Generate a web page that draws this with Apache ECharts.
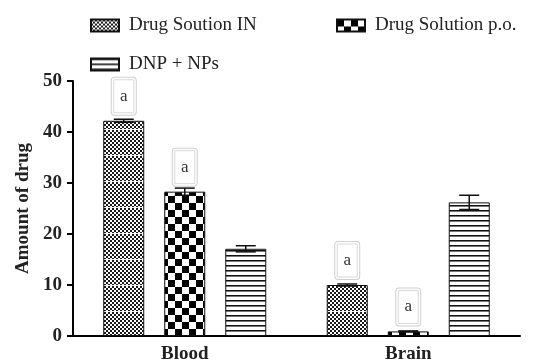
<!DOCTYPE html>
<html>
<head>
<meta charset="utf-8">
<script src="https://cdn.jsdelivr.net/npm/echarts@6/dist/echarts.min.js"></script>
<style>
  html, body { margin: 0; padding: 0; background: #fff; }
  #chart { width: 540px; height: 364px; }
</style>
</head>
<body>
<div id="chart"></div>
<script>
// Tissue distribution of the drug
const categories = ['Blood', 'Brain'];
const seriesNames = ['Drug Soution IN', 'Drug Solution p.o.', 'DNP + NPs'];
const inValues = [42.2, 10.0];
const poValues = [28.3, 0.9];
const dnpValues = [17.1, 26.2];
const inErrors = [0.3, 0.2];
const poErrors = [0.7, 0.1];
const dnpErrors = [0.6, 1.4];
const inMarks = ['a', 'a'];
const poMarks = ['a', 'a'];
const dnpMarks = ['', ''];
const yTicks = [0, 10, 20, 30, 40, 50];

const FONT = "'Liberation Serif', 'Times New Roman', serif";
const BAR_W = 41;
const BAR_GAP = 20;

// Fill patterns drawn on small canvas tiles
function tile(w, h, draw) {
  const c = document.createElement('canvas');
  c.width = w; c.height = h;
  const ctx = c.getContext('2d');
  ctx.fillStyle = '#fff';
  ctx.fillRect(0, 0, w, h);
  draw(ctx);
  return { image: c, repeat: 'repeat' };
}
const fineChecker = tile(4, 26, ctx => {
  ctx.fillStyle = '#1a1a1a';
  for (let y = 0; y < 26; y += 2) {
    for (let x = 0; x < 4; x += 2) {
      if (((x + y) / 2) % 2 === 0) ctx.fillRect(x, y, 2, 2);
    }
  }
  ctx.fillStyle = '#eee';
  ctx.fillRect(0, 25, 3, 1);
});
const bigChecker = tile(14, 14, ctx => {
  ctx.fillStyle = '#000';
  ctx.fillRect(0, 0, 7, 7);
  ctx.fillRect(7, 7, 7, 7);
});
const hLines = tile(4, 5, ctx => {
  ctx.fillStyle = '#111';
  ctx.fillRect(0, 0, 4, 1);
  ctx.fillStyle = '#777';
  ctx.fillRect(0, 1, 4, 1);
});

const valueSets = [inValues, poValues, dnpValues];
const errorSets = [inErrors, poErrors, dnpErrors];
const markSets = [inMarks, poMarks, dnpMarks];
const fills = [fineChecker, bigChecker, hLines];

const letterLabel = {
  show: true,
  position: 'top',
  distance: 6,
  formatter: p => markSets[p.seriesIndex][p.dataIndex] ? '{b|' + markSets[p.seriesIndex][p.dataIndex] + '}' : '',
  backgroundColor: '#fff',
  borderColor: '#cfcfcf',
  borderWidth: 1,
  borderRadius: 3,
  padding: 2,
  rich: {
    b: {
      width: 20, height: 33, lineHeight: 33,
      align: 'center', verticalAlign: 'middle',
      borderColor: '#d8d8d8', borderWidth: 1,
      fontFamily: FONT, fontSize: 17, color: '#333'
    }
  }
};

const barSeries = seriesNames.map((name, s) => ({
  name: name,
  type: 'bar',
  barWidth: BAR_W,
  barGap: (BAR_GAP / BAR_W * 100).toFixed(1) + '%',
  data: valueSets[s],
  itemStyle: { color: fills[s], borderColor: '#111', borderWidth: 1 },
  label: letterLabel,
  emphasis: { disabled: true }
}));

const errData = [];
categories.forEach((c, i) => {
  for (let s = 0; s < 3; s++) errData.push([i, s, valueSets[s][i], errorSets[s][i]]);
});

const errorSeries = {
  type: 'custom',
  data: errData,
  encode: { x: 0, y: 2 },
  z: 3,
  silent: true,
  renderItem: (params, api) => {
    const i = api.value(0), s = api.value(1), v = api.value(2), e = api.value(3);
    const off = (s - 1) * (BAR_W + BAR_GAP);
    const top = api.coord([i, v + e]);
    const bot = api.coord([i, v - e]);
    const x = top[0] + off;
    const half = 10;
    const style = { stroke: '#111', lineWidth: 1.5, fill: null };
    return {
      type: 'group',
      children: [
        { type: 'line', shape: { x1: x, y1: top[1], x2: x, y2: bot[1] }, style },
        { type: 'line', shape: { x1: x - half, y1: top[1], x2: x + half, y2: top[1] }, style },
        { type: 'line', shape: { x1: x - half, y1: bot[1], x2: x + half, y2: bot[1] }, style }
      ]
    };
  }
};

const legendText = { fontFamily: FONT, fontSize: 19, color: '#222', padding: [0, 0, 0, 5] };
const legendBase = { icon: 'rect', itemWidth: 28, itemHeight: 12, textStyle: legendText, selectedMode: false };

const chart = echarts.init(document.getElementById('chart'), null, { renderer: 'canvas' });
chart.setOption({
  animation: false,
  backgroundColor: '#fff',
  legend: [
    Object.assign({ data: [seriesNames[0]], left: 85, top: 11 }, legendBase),
    Object.assign({ data: [seriesNames[1]], left: 331, top: 11 }, legendBase),
    Object.assign({ data: [seriesNames[2]], left: 85, top: 50 }, legendBase)
  ],
  grid: { left: 73, right: 20, top: 81, bottom: 27, containLabel: false },
  xAxis: {
    type: 'category',
    data: categories,
    axisLine: { lineStyle: { color: '#000', width: 2 } },
    axisTick: { alignWithLabel: true, length: 6, lineStyle: { color: '#000', width: 2 } },
    axisLabel: { margin: 9, fontFamily: FONT, fontSize: 19, fontWeight: 'bold', color: '#222' }
  },
  yAxis: {
    type: 'value',
    min: yTicks[0],
    max: yTicks[yTicks.length - 1],
    interval: yTicks[1] - yTicks[0],
    name: 'Amount of drug',
    nameLocation: 'middle',
    nameGap: 40,
    nameTextStyle: { fontFamily: FONT, fontSize: 19, fontWeight: 'bold', color: '#222' },
    splitLine: { show: false },
    axisLine: { show: true, lineStyle: { color: '#000', width: 2 } },
    axisTick: { show: true, length: 6, lineStyle: { color: '#000', width: 2 } },
    axisLabel: { margin: 11, fontFamily: FONT, fontSize: 19, fontWeight: 'bold', color: '#222' }
  },
  series: barSeries.concat([errorSeries])
});
</script>
</body>
</html>
